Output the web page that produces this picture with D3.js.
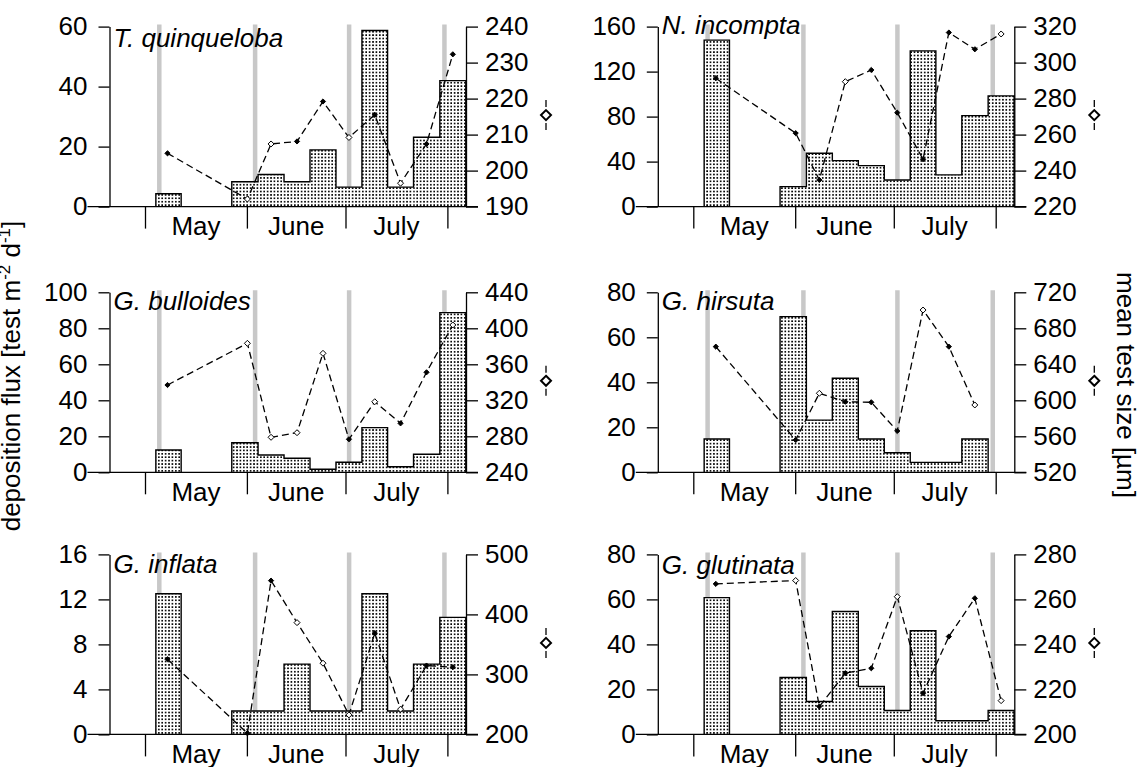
<!DOCTYPE html>
<html>
<head>
<meta charset="utf-8">
<title>Deposition flux and mean test size</title>
<style>
  body { margin: 0; background: #fff; }
  svg { display: block; font-family: "Liberation Sans", Arial, sans-serif; }
</style>
</head>
<body>
<svg width="1140" height="767"></svg>
<script src="https://d3js.org/d3.v7.min.js"></script>
<script>

// ---- data (days counted from 1 May) ----
var months = ["May", "June", "July"];
var monthStarts = [0, 31, 61, 92];
var binEdges = [3.3, 11.0, 18.7, 26.4, 34.4, 42.3, 50.2, 58.1, 66.0, 73.8, 81.7, 89.7, 97.6];
var pointDays = [6.85, 31.15, 38.35, 46.25, 54.15, 62.05, 69.9, 77.75, 85.65, 93.65];
var moonDays = [4.35, 33.5, 62.1, 91.1];

var species = ["T. quinqueloba", "N. incompta", "G. bulloides", "G. hirsuta", "G. inflata", "G. glutinata"];

var fluxTicks = [[0, 20, 40, 60], [0, 40, 80, 120, 160], [0, 20, 40, 60, 80, 100],
                 [0, 20, 40, 60, 80], [0, 4, 8, 12, 16], [0, 20, 40, 60, 80]];
var sizeTicks = [[190, 200, 210, 220, 230, 240], [220, 240, 260, 280, 300, 320],
                 [240, 280, 320, 360, 400, 440], [520, 560, 600, 640, 680, 720],
                 [200, 300, 400, 500], [200, 220, 240, 260, 280]];

// flux per sampling interval (12 intervals, 0 = no tests)
var quinquelobaFlux = [4.3, 0, 0, 8.3, 10.7, 8.3, 18.9, 6.5, 58.7, 6.5, 23.1, 42];
var incomptaFlux    = [148, 0, 0, 17.8, 47.4, 40.9, 36.4, 23.7, 138.4, 28.2, 80.9, 98.4];
var bulloidesFlux   = [12.4, 0, 0, 16.4, 9.6, 7.8, 1.7, 5.6, 24.8, 3.1, 10, 88.7];
var hirsutaFlux     = [14.8, 0, 0, 69.2, 23.2, 41.8, 14.8, 8.7, 4.4, 4.4, 14.8, 0];
var inflataFlux     = [12.5, 0, 0, 2.08, 2.08, 6.25, 2.08, 2.08, 12.5, 2.08, 6.25, 10.4];
var glutinataFlux   = [60.8, 0, 0, 25.3, 14.6, 54.6, 21.3, 10.6, 46.1, 6.1, 6.1, 10.6];

// mean test size per sample [µm]
var quinquelobaSize = [204.8, 192.1, 207.4, 208.1, 219.2, 209.2, 215.5, 196.5, 207.4, 232.3];
var incomptaSize    = [291.3, 260.8, 234.8, 289.4, 295.9, 272.2, 246.3, 316.7, 307.4, 315.9];
var bulloidesSize   = [337, 383.3, 278.9, 284, 372.2, 276.7, 318.4, 294.4, 351.1, 403.7];
var hirsutaSize     = [659.6, 555.9, 607.8, 598.4, 597.8, 565.9, 700.3, 659.6, 594.8, null];
var inflataSize     = [325.3, 202, 456.3, 386.3, 318.7, 232.5, 368.7, 242, 314.7, 312];
var glutinataSize   = [266.9, 268.4, 212.4, 227.2, 229.4, 261.2, 218.3, 243.5, 260.5, 215];

// filled (1) or open (0) marker
var quinquelobaSolid = [1, 0, 0, 1, 1, 0, 1, 0, 1, 1];
var incomptaSolid    = [1, 1, 1, 0, 1, 1, 1, 1, 1, 0];
var bulloidesSolid   = [1, 0, 0, 0, 0, 1, 0, 1, 1, 0];
var hirsutaSolid     = [1, 1, 0, 1, 1, 1, 0, 1, 0, 0];
var inflataSolid     = [1, 1, 1, 0, 0, 0, 1, 0, 1, 1];
var glutinataSolid   = [1, 0, 1, 1, 1, 0, 1, 1, 1, 0];

var fluxes = [quinquelobaFlux, incomptaFlux, bulloidesFlux, hirsutaFlux, inflataFlux, glutinataFlux];
var sizes = [quinquelobaSize, incomptaSize, bulloidesSize, hirsutaSize, inflataSize, glutinataSize];
var solids = [quinquelobaSolid, incomptaSolid, bulloidesSolid, hirsutaSolid, inflataSolid, glutinataSolid];

// ---- layout ----
var colX = [109.5, 657.8],
    rowY = [26.6, 292.3, 554.4],
    plotW = 356.5,
    plotH = 180,
    titleDy = [20, 7.5, 18, 18, 19, 20],
    fontSize = 26;

var svg = d3.select("svg");

var pat = svg.append("defs").append("pattern")
    .attr("id", "dots")
    .attr("patternUnits", "userSpaceOnUse")
    .attr("width", 3.4)
    .attr("height", 3.4);
pat.append("rect").attr("width", 3.4).attr("height", 3.4).attr("fill", "#fff");
pat.append("rect").attr("x", 0.9).attr("y", 0.9).attr("width", 1.65).attr("height", 1.65).attr("fill", "#000");

var x = d3.scaleLinear()
    .domain([-10.8, 97.66])
    .range([0, plotW]);

function diamond(r) {
  return "M0," + (-r) + "L" + r + ",0L0," + r + "L" + (-r) + ",0Z";
}

function styleAxis(sel) {
  sel.attr("font-size", fontSize)
     .attr("font-family", "'Liberation Sans', Arial, sans-serif");
  sel.selectAll("line, path").attr("stroke", "#000").attr("stroke-width", 1.3);
  sel.selectAll("text").attr("fill", "#000");
}

species.forEach(function(name, i) {
  var g = svg.append("g")
      .attr("transform", "translate(" + colX[i % 2] + "," + rowY[Math.floor(i / 2)] + ")");

  var yL = d3.scaleLinear().domain(d3.extent(fluxTicks[i])).range([plotH, 0]);
  var yR = d3.scaleLinear().domain(d3.extent(sizeTicks[i])).range([plotH, 0]);

  // full moon markers
  g.selectAll(".moon")
    .data(moonDays)
    .enter().append("line")
      .attr("class", "moon")
      .attr("x1", function(d) { return x(d); })
      .attr("x2", function(d) { return x(d); })
      .attr("y1", -2)
      .attr("y2", plotH)
      .attr("stroke", "#c8c8c8")
      .attr("stroke-width", 4.5);

  // flux bars: stippled fill, then one step outline per run of samples
  var flux = fluxes[i];
  var bins = flux.map(function(v, j) {
      return {v: v, x0: binEdges[j], x1: binEdges[j + 1]};
    }).filter(function(d) { return d.v > 0; });

  g.selectAll(".bar")
    .data(bins)
    .enter().append("rect")
      .attr("class", "bar")
      .attr("x", function(d) { return x(d.x0); })
      .attr("width", function(d) { return x(d.x1) - x(d.x0); })
      .attr("y", function(d) { return yL(d.v); })
      .attr("height", function(d) { return plotH - yL(d.v); })
      .attr("fill", "url(#dots)");

  var runs = [];
  flux.forEach(function(v, j) {
    if (v > 0) {
      if (j === 0 || !(flux[j - 1] > 0)) runs.push([]);
      runs[runs.length - 1].push(j);
    }
  });

  g.selectAll(".outline")
    .data(runs)
    .enter().append("path")
      .attr("class", "outline")
      .attr("d", function(run) {
        var pts = [[x(binEdges[run[0]]), plotH]];
        run.forEach(function(j) {
          pts.push([x(binEdges[j]), yL(flux[j])]);
          pts.push([x(binEdges[j + 1]), yL(flux[j])]);
        });
        pts.push([x(binEdges[run[run.length - 1] + 1]), plotH]);
        return d3.line()(pts);
      })
      .attr("fill", "none")
      .attr("stroke", "#000")
      .attr("stroke-width", 1.4);

  // axes
  g.append("g")
      .call(d3.axisLeft(yL).tickValues(fluxTicks[i]).tickSize(11).tickSizeOuter(0).tickPadding(11))
      .call(styleAxis);

  g.append("g")
      .attr("transform", "translate(" + plotW + ",0)")
      .call(d3.axisRight(yR).tickValues(sizeTicks[i]).tickSize(12).tickSizeOuter(0).tickPadding(7))
      .call(styleAxis);

  g.append("line")
      .attr("x1", -22)
      .attr("x2", plotW + 12)
      .attr("y1", plotH)
      .attr("y2", plotH)
      .attr("stroke", "#000")
      .attr("stroke-width", 1.3);

  var xa = g.append("g")
      .attr("transform", "translate(0," + plotH + ")")
      .call(d3.axisBottom(x).tickValues(monthStarts).tickSize(22).tickFormat(""))
      .call(styleAxis);
  xa.select(".domain").remove();

  g.selectAll(".month")
    .data(months)
    .enter().append("text")
      .attr("class", "month")
      .attr("x", function(d, k) { return (x(monthStarts[k]) + x(monthStarts[k + 1])) / 2; })
      .attr("y", plotH + 28.5)
      .attr("text-anchor", "middle")
      .attr("font-size", fontSize)
      .text(function(d) { return d; });

  // mean test size line
  var pts = sizes[i].map(function(v, j) {
      return {day: pointDays[j], v: v, solid: solids[i][j]};
    });

  var line = d3.line()
      .defined(function(d) { return d.v != null; })
      .x(function(d) { return x(d.day); })
      .y(function(d) { return yR(d.v); });

  g.append("path")
      .datum(pts)
      .attr("d", line)
      .attr("fill", "none")
      .attr("stroke", "#000")
      .attr("stroke-width", 1.3)
      .attr("stroke-dasharray", "7,4");

  g.selectAll(".pt")
    .data(pts.filter(function(d) { return d.v != null; }))
    .enter().append("path")
      .attr("class", "pt")
      .attr("transform", function(d) { return "translate(" + x(d.day) + "," + yR(d.v) + ")"; })
      .attr("d", function(d) { return d.solid ? diamond(2.6) : diamond(3); })
      .attr("fill", function(d) { return d.solid ? "#000" : "#fff"; })
      .attr("stroke", "#000")
      .attr("stroke-width", 1);

  // species name
  g.append("text")
      .attr("x", 4)
      .attr("y", titleDy[i])
      .attr("font-size", fontSize)
      .attr("font-style", "italic")
      .text(name);

  // line key beside the right axis
  var key = g.append("g")
      .attr("transform", "translate(" + (plotW + 80) + "," + (plotH / 2 - 1.5) + ")");
  key.append("line").attr("y1", -15).attr("y2", -8).attr("stroke", "#000").attr("stroke-width", 1.3);
  key.append("line").attr("y1", 8).attr("y2", 15).attr("stroke", "#000").attr("stroke-width", 1.3);
  key.append("path").attr("d", diamond(5)).attr("fill", "#fff").attr("stroke", "#000").attr("stroke-width", 2);
});

// axis titles
var lt = svg.append("text")
    .attr("transform", "translate(19.5,376) rotate(-90)")
    .attr("text-anchor", "middle")
    .attr("font-size", fontSize);
lt.append("tspan").text("deposition flux [test m");
lt.append("tspan").attr("font-size", 17).attr("dy", -10).text("-2");
lt.append("tspan").attr("dy", 10).text(" d");
lt.append("tspan").attr("font-size", 17).attr("dy", -10).text("-1");
lt.append("tspan").attr("dy", 10).text("]");

svg.append("text")
    .attr("transform", "translate(1117,385) rotate(90)")
    .attr("text-anchor", "middle")
    .attr("font-size", fontSize)
    .text("mean test size [µm]");

</script>
</body>
</html>
